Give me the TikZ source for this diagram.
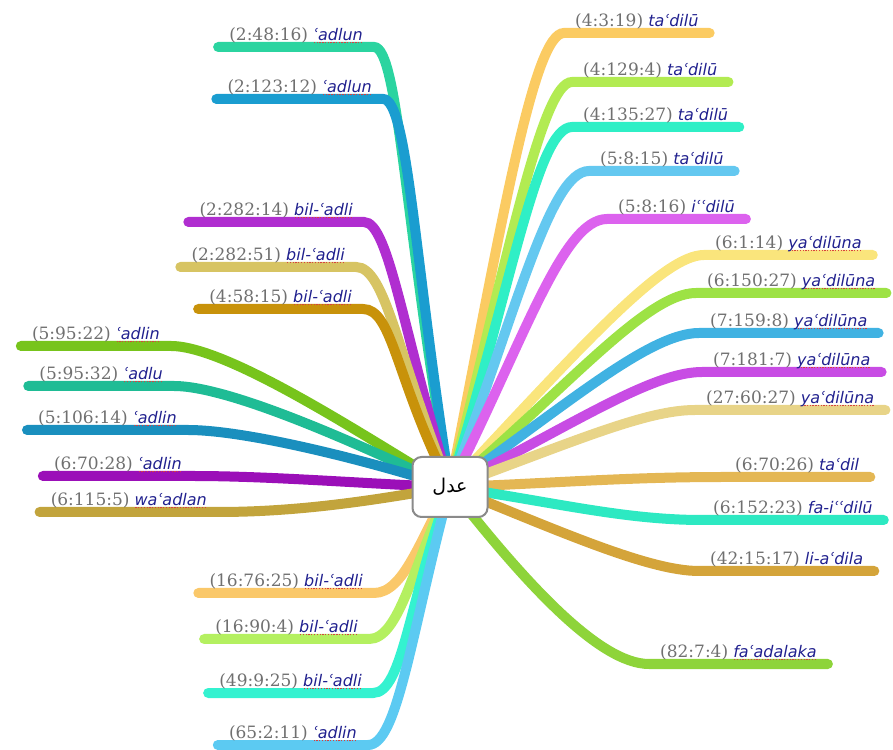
\documentclass[tikz,border=0pt]{standalone}
\usepackage{fontspec}
\setmainfont{DejaVu Serif}
\newfontfamily\wordfont{DejaVu Sans}
\newfontfamily\arabicfont[Script=Arabic]{DejaVu Sans}
\TeXXeTstate=1

\definecolor{refgray}{HTML}{707070}
\definecolor{wordblue}{HTML}{20208E}
\definecolor{squig}{HTML}{D84040}
\definecolor{boxgray}{HTML}{8A8A8A}
\definecolor{br1}{HTML}{2BD4A0}
\definecolor{br2}{HTML}{1A9DD0}
\definecolor{br3}{HTML}{B02ED0}
\definecolor{br4}{HTML}{D7C463}
\definecolor{br5}{HTML}{C8920A}
\definecolor{br6}{HTML}{77C41C}
\definecolor{br7}{HTML}{1FBC95}
\definecolor{br8}{HTML}{1A8FBE}
\definecolor{br9}{HTML}{9B0FB8}
\definecolor{br10}{HTML}{C2A43C}
\definecolor{br11}{HTML}{FAC86A}
\definecolor{br12}{HTML}{B4F060}
\definecolor{br13}{HTML}{34F2D0}
\definecolor{br14}{HTML}{5CCAF2}
\definecolor{br15}{HTML}{FBCB62}
\definecolor{br16}{HTML}{B2EB52}
\definecolor{br17}{HTML}{2FEFC6}
\definecolor{br18}{HTML}{64C8F0}
\definecolor{br19}{HTML}{DC62EE}
\definecolor{br20}{HTML}{FAE57C}
\definecolor{br21}{HTML}{9DE245}
\definecolor{br22}{HTML}{40B2E2}
\definecolor{br23}{HTML}{C84CE4}
\definecolor{br24}{HTML}{E8D488}
\definecolor{br25}{HTML}{E4B754}
\definecolor{br26}{HTML}{2DE9C2}
\definecolor{br27}{HTML}{D4A43A}
\definecolor{br28}{HTML}{8ED43A}

\newsavebox{\sqbox}
\newcommand{\sq}[1]{\sbox{\sqbox}{#1}\rlap{\lower2.6pt\hbox to\wd\sqbox{\xleaders\hbox{\kern0.7pt\textcolor{squig}{\rule{1.3pt}{1.3pt}}\kern0.7pt}\hfill}}\usebox{\sqbox}}
\newcommand{\vref}[2]{{\color{refgray}\fontsize{17}{20}\selectfont#1} {\wordfont\itshape\color{wordblue}#2}}

\pgfdeclarelayer{back}
\pgfsetlayers{back,main}

\begin{document}
\begin{tikzpicture}[x=1pt,y=1pt]
			\tikzstyle{word}=[inner xsep=11pt,inner ysep=6pt,text depth=0pt,font=\fontsize{16}{20}\selectfont]
			\tikzstyle{branch}=[line width=10pt,line cap=round]
			\tikzstyle{hub}=[draw=boxgray,line width=2pt,fill=white,rounded corners=9pt,minimum width=75pt,minimum height=60pt]
				\useasboundingbox (0,0) rectangle (893,749);
				\node[hub](adl) at (450,262){\arabicfont\fontsize{19}{22}\selectfont\beginR عدل\endR};
				% left side
				\node[word,anchor=south east](w1) at (374,702){\vref{(2:48:16)}{\sq{ʿadlun}}};
				\node[word,anchor=south east](w2) at (383,650){\vref{(2:123:12)}{\sq{ʿadlun}}};
				\node[word,anchor=south east](w3) at (364,527){\vref{(2:282:14)}{\sq{bil-ʿadli}}};
				\node[word,anchor=south east](w4) at (356,482){\vref{(2:282:51)}{\sq{bil-ʿadli}}};
				\node[word,anchor=south east](w5) at (363,440){\vref{(4:58:15)}{\sq{bil-ʿadli}}};
				\node[word,anchor=south east](w6) at (171,403){\vref{(5:95:22)}{\sq{ʿadlin}}};
				\node[word,anchor=south east](w7) at (174,363){\vref{(5:95:32)}{\sq{ʿadlu}}};
				\node[word,anchor=south east](w8) at (188,319){\vref{(5:106:14)}{\sq{ʿadlin}}};
				\node[word,anchor=south east](w9) at (193,273){\vref{(6:70:28)}{\sq{ʿadlin}}};
				\node[word,anchor=south east](w10) at (218,237){\vref{(6:115:5)}{\sq{waʿadlan}}};
				\node[word,anchor=south east](w11) at (374,156){\vref{(16:76:25)}{\sq{bil-ʿadli}}};
				\node[word,anchor=south east](w12) at (369,110){\vref{(16:90:4)}{\sq{bil-ʿadli}}};
				\node[word,anchor=south east](w13) at (373,56){\vref{(49:9:25)}{\sq{bil-ʿadli}}};
				\node[word,anchor=south east](w14) at (368,4){\vref{(65:2:11)}{\sq{ʿadlin}}};
				% right side
				\node[word,anchor=south west](w15) at (564,716){\vref{(4:3:19)}{taʿdilū}};
				\node[word,anchor=south west](w16) at (572,667){\vref{(4:129:4)}{taʿdilū}};
				\node[word,anchor=south west](w17) at (572,622){\vref{(4:135:27)}{taʿdilū}};
				\node[word,anchor=south west](w18) at (589,578){\vref{(5:8:15)}{taʿdilū}};
				\node[word,anchor=south west](w19) at (607,530){\vref{(5:8:16)}{iʿʿdilū}};
				\node[word,anchor=south west](w20) at (704,494){\vref{(6:1:14)}{\sq{yaʿdilūna}}};
				\node[word,anchor=south west](w21) at (696,456){\vref{(6:150:27)}{\sq{yaʿdilūna}}};
				\node[word,anchor=south west](w22) at (699,416){\vref{(7:159:8)}{\sq{yaʿdilūna}}};
				\node[word,anchor=south west](w23) at (702,377){\vref{(7:181:7)}{\sq{yaʿdilūna}}};
				\node[word,anchor=south west](w24) at (695,339){\vref{(27:60:27)}{\sq{yaʿdilūna}}};
				\node[word,anchor=south west](w25) at (724,272){\vref{(6:70:26)}{taʿdil}};
				\node[word,anchor=south west](w26) at (702,229){\vref{(6:152:23)}{fa-iʿʿdilū}};
				\node[word,anchor=south west](w27) at (699,178){\vref{(42:15:17)}{li-aʿdila}};
				\node[word,anchor=south west](w28) at (649,85){\vref{(82:7:4)}{\sq{faʿadalaka}}};
				\begin{pgfonlayer}{back}
				\draw[branch,br1] (adl.center) .. controls +(100:260) and +(0:25) .. (w1.south east) -- (w1.south west);
				\draw[branch,br2] (adl.center) .. controls +(99:230) and +(0:25) .. (w2.south east) -- (w2.south west);
				\draw[branch,br3] (adl.center) .. controls +(107:160) and +(0:25) .. (w3.south east) -- (w3.south west);
				\draw[branch,br4] (adl.center) .. controls +(112:140) and +(0:30) .. (w4.south east) -- (w4.south west);
				\draw[branch,br5] (adl.center) .. controls +(117:120) and +(0:30) .. (w5.south east) -- (w5.south west);
				\draw[branch,br6] (adl.center) .. controls +(150:80) and +(0:60) .. (w6.south east) -- (w6.south west);
				\draw[branch,br7] (adl.center) .. controls +(155:80) and +(0:60) .. (w7.south east) -- (w7.south west);
				\draw[branch,br8] (adl.center) .. controls +(162:80) and +(0:60) .. (w8.south east) -- (w8.south west);
				\draw[branch,br9] (adl.center) .. controls +(178:80) and +(0:80) .. (w9.south east) -- (w9.south west);
				\draw[branch,br10] (adl.center) .. controls +(190:80) and +(0:80) .. (w10.south east) -- (w10.south west);
				\draw[branch,br11] (adl.center) .. controls +(240:60) and +(0:30) .. (w11.south east) -- (w11.south west);
				\draw[branch,br12] (adl.center) .. controls +(245:90) and +(0:30) .. (w12.south east) -- (w12.south west);
				\draw[branch,br13] (adl.center) .. controls +(250:120) and +(0:30) .. (w13.south east) -- (w13.south west);
				\draw[branch,br14] (adl.center) .. controls +(255:150) and +(0:30) .. (w14.south east) -- (w14.south west);
				\draw[branch,br15] (adl.center) .. controls +(79:280) and +(180:30) .. (w15.south west) -- (w15.south east);
				\draw[branch,br16] (adl.center) .. controls +(76:240) and +(180:30) .. (w16.south west) -- (w16.south east);
				\draw[branch,br17] (adl.center) .. controls +(73:210) and +(180:35) .. (w17.south west) -- (w17.south east);
				\draw[branch,br18] (adl.center) .. controls +(69:180) and +(180:40) .. (w18.south west) -- (w18.south east);
				\draw[branch,br19] (adl.center) .. controls +(63:160) and +(180:45) .. (w19.south west) -- (w19.south east);
				\draw[branch,br20] (adl.center) .. controls +(47:200) and +(180:40) .. (w20.south west) -- (w20.south east);
				\draw[branch,br21] (adl.center) .. controls +(40:150) and +(180:50) .. (w21.south west) -- (w21.south east);
				\draw[branch,br22] (adl.center) .. controls +(35:140) and +(180:50) .. (w22.south west) -- (w22.south east);
				\draw[branch,br23] (adl.center) .. controls +(27:140) and +(180:50) .. (w23.south west) -- (w23.south east);
				\draw[branch,br24] (adl.center) .. controls +(20:130) and +(180:50) .. (w24.south west) -- (w24.south east);
				\draw[branch,br25] (adl.center) .. controls +(2:100) and +(180:100) .. (w25.south west) -- (w25.south east);
				\draw[branch,br26] (adl.center) .. controls +(-8:100) and +(180:80) .. (w26.south west) -- (w26.south east);
				\draw[branch,br27] (adl.center) .. controls +(-22:120) and +(180:50) .. (w27.south west) -- (w27.south east);
				\draw[branch,br28] (adl.center) .. controls +(-52:120) and +(180:50) .. (w28.south west) -- (w28.south east);
				\end{pgfonlayer}
			\end{tikzpicture}
\end{document}
